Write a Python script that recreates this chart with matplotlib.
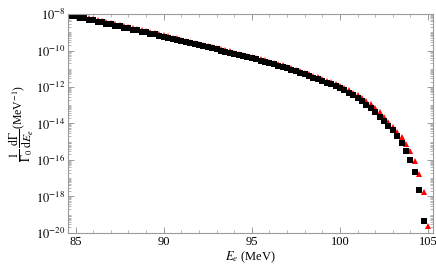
import numpy as np
import matplotlib
matplotlib.use("Agg")
import matplotlib.pyplot as plt
from matplotlib.ticker import FixedLocator, MultipleLocator, LogLocator, NullFormatter, FuncFormatter

plt.rcParams['font.family'] = ['Liberation Serif', 'DejaVu Serif']
plt.rcParams['mathtext.fontset'] = 'stix'

# electron energy grid (MeV) for the black squares
e_black = np.arange(84.75, 104.76, 0.25)

# log10 of the spectrum (black squares)
log_black = [
    -8.08, -8.13, -8.19, -8.24, -8.30, -8.35, -8.41, -8.46, -8.52, -8.57,
    -8.63, -8.68, -8.74, -8.79, -8.85, -8.90, -8.96, -9.01, -9.07, -9.12,
    -9.18, -9.24, -9.30, -9.35, -9.41, -9.47, -9.53, -9.59, -9.64, -9.70,
    -9.76, -9.82, -9.88, -9.94, -10.00, -10.06, -10.12, -10.18, -10.24, -10.30,
    -10.36, -10.42, -10.49, -10.55, -10.62, -10.69, -10.76, -10.83, -10.90, -10.98,
    -11.06, -11.14, -11.22, -11.30, -11.39, -11.48, -11.57, -11.66, -11.76, -11.86,
    -11.96, -12.07, -12.19, -12.32, -12.46, -12.61, -12.78, -12.96, -13.16, -13.38,
    -13.62, -13.86, -14.12, -14.38, -14.68, -15.06, -15.50, -16.00, -16.66, -17.64,
    -19.34,
]

# red triangles sit one step to the right
e_red = np.arange(85.0, 105.01, 0.25)
log_red = [
    -8.07, -8.12, -8.18, -8.23, -8.29, -8.34, -8.40, -8.45, -8.51, -8.56,
    -8.62, -8.67, -8.73, -8.78, -8.84, -8.89, -8.95, -9.00, -9.06, -9.11,
    -9.17, -9.23, -9.29, -9.34, -9.40, -9.46, -9.52, -9.58, -9.63, -9.69,
    -9.75, -9.81, -9.87, -9.93, -9.99, -10.05, -10.11, -10.17, -10.23, -10.29,
    -10.35, -10.41, -10.48, -10.54, -10.61, -10.68, -10.75, -10.82, -10.89, -10.97,
    -11.05, -11.13, -11.21, -11.29, -11.38, -11.47, -11.56, -11.65, -11.75, -11.85,
    -11.95, -12.06, -12.18, -12.31, -12.45, -12.60, -12.77, -12.95, -13.15, -13.38,
    -13.64, -13.90, -14.17, -14.45, -14.76, -15.12, -15.50, -16.07, -16.75, -17.75,
    -19.63,
]

ytick_exp = [-20, -18, -16, -14, -12, -10, -8]
xticks = [85, 90, 95, 100, 105]

fig = plt.figure(figsize=(4.36, 2.65), dpi=100)
ax = fig.add_axes([0.156, 0.121, 0.837, 0.826])

ax.plot(e_red, 10.0 ** np.array(log_red), linestyle='none', marker='^',
        color='#ff0000', markersize=5.0, markeredgewidth=0)
ax.plot(e_black, 10.0 ** np.array(log_black), linestyle='none', marker='s',
        color='black', markersize=4.7, markeredgewidth=0)

ax.set_yscale('log')
ax.set_xlim(84.57, 105.28)
ax.set_ylim(1e-20, 1e-8)

ax.yaxis.set_major_locator(FixedLocator([10.0 ** k for k in ytick_exp]))
ax.yaxis.set_major_formatter(FuncFormatter(lambda v, p: r'$10^{%d}$' % round(np.log10(v))))
ax.yaxis.set_minor_locator(LogLocator(base=10, subs=np.arange(1, 10), numticks=200))
ax.yaxis.set_minor_formatter(NullFormatter())
ax.xaxis.set_major_locator(FixedLocator(xticks))
ax.xaxis.set_minor_locator(MultipleLocator(1))

grey = '#9a9a9a'
for s in ax.spines.values():
    s.set_color(grey)
    s.set_linewidth(0.8)
ax.tick_params(which='both', direction='in', top=True, right=True, color=grey,
               labelsize=9, pad=2)
ax.tick_params(which='major', length=4, width=0.7)
ax.tick_params(which='minor', length=2, width=0.5)

ax.set_xlabel(r'$E_e$ (MeV)', fontsize=9, labelpad=1)
ax.set_ylabel(r'$\dfrac{1}{\Gamma_0}\,\dfrac{\mathrm{d}\Gamma}{\mathrm{d}E_e}$(MeV$^{-1}$)',
              fontsize=8.5, labelpad=0)

fig.savefig('out.png', dpi=100)
